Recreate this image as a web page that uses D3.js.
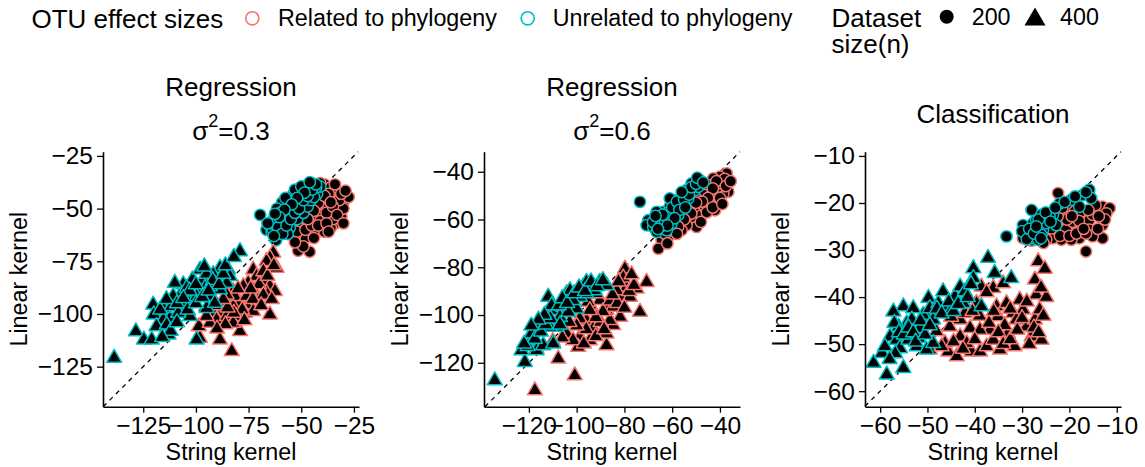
<!DOCTYPE html>
<html><head><meta charset="utf-8">
<script src="https://cdn.jsdelivr.net/npm/d3@7"></script>
<style>body{margin:0;background:#fff}svg{display:block}text{font-family:"Liberation Sans",Arial,sans-serif;fill:#000}</style>
</head><body><svg id="c" width="1145" height="467"></svg>
<script>
// ---------- data ----------
const panelTitles = [["Regression","σ","2","=0.3"],["Regression","σ","2","=0.6"],["Classification"]];
const xTicks = [[-125,-100,-75,-50,-25],[-120,-100,-80,-60,-40],[-60,-50,-40,-30,-20,-10]];
const yTicks = [[-125,-100,-75,-50,-25],[-120,-100,-80,-60,-40],[-60,-50,-40,-30,-20,-10]];
const xDomains = [[-144.1,-22.6],[-138.8,-31.6],[-63.2,-9.1]];
const yDomains = [[-144,-23],[-138.4,-31.6],[-63.3,-9.1]];
const groupLabels = ["Related to phylogeny","Unrelated to phylogeny"];
const sizeLabels = ["200","400"];

// Panel 1 (σ²=0.3)
const p1CircRel = [[-39,-38.5],[-36,-40],[-33,-42],[-28,-44.5],[-30,-47],[-35,-45],[-40,-44],[-43,-43],[-38,-47],[-33,-50],[-36,-52],[-40,-50],[-44,-48],[-42,-53],[-38,-55],[-34,-57],[-31,-54],[-36,-59],[-40,-58],[-45,-55],[-47,-52],[-49,-57],[-52,-58],[-54,-60],[-56,-59],[-50,-62],[-46,-60],[-43,-61],[-51,-66],[-48,-64],[-51.5,-70],[-46,-70.5],[-41,-56],[-44,-64],[-39,-61],[-30,-50],[-32,-46],[-37,-43],[-41,-41],[-45,-45],[-49,-48],[-53,-63],[-56,-62],[-27.5,-44.5],[-35,-55],[-42,-47.5],[-38,-52],
  [-55,-56],[-52,-61],[-48,-60],[-45,-58],[-42,-58],[-38,-57],[-35,-49],[-31,-43],[-29,-41.5],[-34,-38.5],[-41,-38],[-44,-51],[-47,-55],[-37,-61],[-33,-53],[-30,-57],[-49,-68],[-53,-66],[-39,-44],[-36,-47]];
const p1CircUnr = [[-69.5,-53],[-66.5,-60],[-64,-61],[-62,-65],[-61.5,-62],[-63,-55],[-60,-57],[-58.5,-60],[-57,-56],[-55.5,-59],[-57,-51],[-54,-53.5],[-52,-50],[-50,-48],[-52,-55],[-59,-47],[-61.5,-50],[-55.5,-46.5],[-54,-43.5],[-50.5,-45.5],[-49,-41],[-48,-45],[-46.5,-42.5],[-45,-38],[-44,-41],[-42.5,-43],[-41,-39.5],[-47,-39],[-43,-40],[-56,-49],[-53,-47],[-51,-43],[-58,-53],[-60,-52],[-65,-58],[-62,-58],[-56.5,-62],[-49,-52],[-47,-49],[-45.5,-46],[-53,-41],[-57.5,-45],[-50,-39.5],[-59,-55],[-55,-51.5],[-63.5,-60],[-47.5,-43],[-44,-44.5],
  [-64,-57],[-61,-59],[-59,-62],[-57,-58],[-55,-55],[-53,-52],[-51,-50],[-49,-46],[-47,-44],[-45,-41],[-43,-38.5],[-46,-37.5],[-48.5,-42.5],[-52,-45],[-54.5,-48],[-58,-50.5],[-60.5,-54],[-62.5,-52.5],[-66,-57],[-63,-63]];
const p1TriRel = [[-63.3,-71],[-64.9,-73.4],[-61.7,-78.2],[-66.5,-75],[-72.8,-79],[-71.2,-82.1],[-75.2,-85.3],[-68,-84.5],[-64.9,-86.9],[-62.5,-89.2],[-66.5,-90],[-72.8,-88.4],[-77.5,-86.9],[-82.3,-89.2],[-83.9,-93.2],[-79.1,-94.8],[-75.2,-95.6],[-70.4,-93.2],[-82.3,-96.4],[-87,-95.6],[-87.8,-99.5],[-91.8,-99.5],[-90.2,-102.7],[-85.4,-101.1],[-80.7,-101.1],[-76.7,-99.5],[-72.8,-98.7],[-64.9,-100.3],[-79.1,-108.2],[-83,-117.7],[-88.6,-112.2],[-98.1,-111.4],[-98.6,-105.9],[-93.4,-104.3],[-82.3,-104.3],[-74.4,-90],[-81.5,-91.6],[-85.4,-90.8],[-68,-79.8],[-76,-91.6],
  [-70,-86],[-66,-82],[-63,-77],[-68,-91],[-73,-93],[-78,-98],[-82,-99.5],[-86,-105],[-90,-107],[-95,-101],[-91,-96],[-85,-97],[-77,-103],[-74,-88],[-80,-88],[-64,-93],[-69,-96],[-87,-93]];
const p1TriUnr = [[-138.8,-120.9],[-128.5,-108.3],[-124.7,-112.2],[-121,-112.2],[-120.3,-95.6],[-120,-100.3],[-113,-109.8],[-112.3,-101.9],[-115.5,-97.2],[-111.6,-96.4],[-107.6,-94],[-106.8,-90],[-106,-86],[-110.8,-91.6],[-102.8,-94.8],[-102.8,-101.1],[-99.7,-112.2],[-101.6,-83.7],[-98,-79],[-96.5,-83.7],[-95.7,-87.7],[-92.6,-91.6],[-94.9,-97.2],[-90.2,-82.9],[-88.6,-78.2],[-91.8,-81.3],[-84.7,-79],[-83.9,-82.1],[-85.4,-85.3],[-88.6,-88.4],[-79.1,-70.3],[-98.1,-89.2],[-99.7,-91.6],[-105.2,-96.4],[-108.4,-99.5],[-115.5,-102.7],[-118.7,-105.9],[-113.9,-105.1],[-110,-85.3],[-104.4,-87.7],[-93.4,-86.9],[-91,-94.8],
  [-117,-98],[-114,-93],[-109,-95],[-104,-98],[-100,-95],[-97,-92],[-95,-81],[-92,-84],[-89,-86],[-87,-81],[-103,-89],[-106,-92.5],[-112,-108],[-116,-111],[-109,-104],[-100,-86],[-96,-77.5],[-86,-77],[-82,-73],[-94,-89]];

// Panel 2 (σ²=0.6)
const p2CircRel = [[-37.2,-40.7],[-40,-42.1],[-42.8,-42.8],[-36.5,-48.4],[-38.6,-49.1],[-40.7,-46.3],[-44.9,-45.6],[-46.3,-49.8],[-44.2,-53.3],[-41.4,-54],[-48.4,-54],[-50.5,-56.8],[-47.7,-58.2],[-51.9,-60.3],[-49.8,-63.1],[-54,-62.4],[-56.1,-64.5],[-58.9,-62.4],[-60.9,-66.6],[-64.4,-68.7],[-65.8,-72.2],[-59.6,-60.3],[-52.6,-54.7],[-43.5,-49.8],[-42.1,-56.1],[-46.3,-54.7],[-49.1,-51.9],[-56.8,-60.3],[-53.3,-58.2],[-39.3,-44.9],
  [-38,-43],[-41.5,-44],[-43,-47],[-45,-51],[-47.5,-52.5],[-50,-53],[-52,-57.5],[-55,-60],[-57.5,-63],[-61.5,-63.5],[-63,-66],[-48,-61],[-45.5,-57],[-43,-55],[-40,-51],[-37.5,-46],[-35.5,-44],[-39,-53.5],[-58,-66],[-62,-70]];
const p2CircUnr = [[-73.5,-52.6],[-70,-60.3],[-70.7,-62.4],[-67.9,-63.1],[-66.5,-65.2],[-64.4,-61.7],[-62.3,-58.9],[-63.7,-56.8],[-61,-54.7],[-59.6,-51.9],[-58.2,-54],[-56.1,-50.5],[-54,-47.7],[-51.9,-44.9],[-48.4,-43.5],[-50.5,-47.7],[-53.3,-51.2],[-56.8,-56.1],[-60.3,-61.7],[-62.3,-64.5],[-65.1,-58.9],[-66.5,-56.8],[-55.4,-53.3],[-57.5,-58.2],[-49.1,-46.3],[-61,-51.2],
  [-68,-61],[-65,-63],[-63,-60.5],[-61.5,-57],[-60,-55],[-58,-52.5],[-57,-56],[-55,-51.5],[-53,-49.5],[-52,-46.5],[-50,-45],[-49.5,-42.5],[-47,-44.5],[-59,-59.5],[-62,-62.5],[-64,-58],[-67,-58.5],[-56,-48.5],[-54.5,-55],[-66,-64]];
const p2TriRel = [[-117.5,-131.6],[-100.8,-125.3],[-107.7,-118.3],[-116.8,-114.1],[-104.2,-107.8],[-98.7,-109.2],[-94.5,-110.6],[-87.5,-112.7],[-99.4,-113.4],[-95.9,-102.2],[-93.1,-98],[-90.3,-93.8],[-87.5,-98],[-84.7,-96.6],[-81.8,-92.4],[-79.1,-88.2],[-79.8,-80.6],[-80.5,-84.4],[-74.9,-89],[-70.7,-86.2],[-73.5,-98.7],[-81.8,-100.8],[-84.7,-104.3],[-87.5,-107.8],[-93.1,-105.7],[-91.7,-91],[-98.7,-101.5],[-101.5,-110.6],[-83.2,-89.7],[-77.7,-92.4],[-86.1,-102.2],[-95.2,-94.5],
  [-96,-106],[-97,-112],[-92,-109],[-90,-103],[-89,-98.5],[-86,-94],[-83,-95],[-80,-97],[-78,-90],[-76,-87.5],[-82.5,-86],[-85,-91.5],[-92,-101],[-94.5,-98],[-100,-104.5],[-103,-103],[-106,-109.5],[-110,-111],[-88.5,-106],[-77,-83]];
const p2TriUnr = [[-134.3,-127.4],[-121.7,-119.7],[-123.1,-114.8],[-119.6,-110.6],[-118.2,-106.4],[-115.4,-103.6],[-112.6,-99.4],[-116.8,-114.8],[-114,-112.7],[-109.8,-98],[-108.4,-105],[-105.6,-96.6],[-104.2,-91],[-102.8,-89.7],[-98.7,-92.4],[-97.3,-88.2],[-95.9,-86.2],[-93.1,-87.6],[-90.3,-86.2],[-87.5,-87.6],[-100.1,-97.3],[-107,-100.8],[-111.2,-105],[-118.9,-107.8],[-109.8,-112],[-111.9,-92.4],[-101.5,-93.8],[-95.9,-91],[-92.4,-89.7],[-103.5,-98.7],
  [-120.5,-113],[-117.5,-110],[-115,-107],[-113,-104],[-111,-101.5],[-110.5,-96],[-107.5,-96],[-106,-93],[-104,-95],[-101,-91],[-99,-88.5],[-96.5,-90],[-94,-86],[-91.5,-88],[-89,-85.5],[-113.5,-100],[-116,-102],[-119,-104.5],[-122,-112],[-107,-104]];

// Panel 3 (Classification)
const p3CircRel = [[-22.4,-17.9],[-21,-22.5],[-20,-20.8],[-18.9,-21.8],[-17.9,-22.9],[-16.8,-24.3],[-15.8,-23.6],[-14.4,-21.8],[-13,-20.8],[-11.5,-21.1],[-12.2,-22.2],[-13,-24.7],[-13,-27.5],[-16.5,-30.3],[-17.9,-27.5],[-19.6,-27.8],[-21.7,-27.8],[-23.5,-27.5],[-24.9,-27.8],[-22.8,-25.4],[-20.7,-25.7],[-18.2,-25],[-15.8,-25.7],[-15.1,-27.1],[-29.8,-27.5],[-19.3,-24],[-17.5,-21.8],[-15.1,-22.5],[-23.8,-25.4],
  [-27,-27.5],[-25.5,-28.5],[-22,-27],[-20,-27],[-18.5,-26.5],[-16.5,-26.5],[-14,-25.5],[-12.5,-23.5],[-14.5,-20.5],[-16,-21.5],[-18,-23.8],[-20.5,-23.5],[-22.5,-22.8],[-21.5,-21],[-19.5,-22.8],[-17,-25.5],[-13.8,-22.8],[-28,-28]];
const p3CircUnr = [[-33.3,-27.1],[-29.8,-24.7],[-29.1,-26.1],[-28,-27.5],[-27.7,-24.3],[-27,-23.6],[-26.3,-25],[-25.6,-25.7],[-28,-21.5],[-23.5,-22.5],[-22.8,-24.7],[-22.1,-20.1],[-19.6,-19.3],[-17.2,-18.3],[-15.8,-17.2],[-15.4,-19],[-17.9,-20.8],[-25.9,-22.5],[-24.9,-24.3],[-27.3,-26.4],[-28.7,-27.1],[-26.6,-27.8],[-24.2,-22.9],[-25.9,-26.8],
  [-30,-26],[-29,-27.7],[-28.5,-25.5],[-27.5,-26.5],[-26.5,-23.5],[-25,-22],[-24,-24],[-23,-21],[-26,-27.5],[-27,-25],[-18.8,-18.6],[-16.5,-17.7],[-21,-19.8]];
const p3TriRel = [[-50.2,-44.1],[-49.5,-51.2],[-48.1,-47.3],[-45.6,-51.6],[-43.8,-52.6],[-46.3,-49.8],[-43.1,-48.4],[-43.1,-44.8],[-42.1,-43.4],[-41,-46.6],[-40.7,-51.6],[-38.9,-51.6],[-37.5,-50.5],[-36.8,-47],[-35.4,-42],[-35.1,-44.1],[-36.1,-49.1],[-34.7,-51.2],[-33,-47.7],[-33.3,-41.3],[-31.9,-43.4],[-31.6,-50.5],[-30.5,-40.6],[-29.8,-42.7],[-29.1,-46.3],[-28,-48.4],[-27.3,-44.8],[-27,-39.5],[-26.6,-32.4],[-27.3,-36.3],[-26.3,-42.7],[-25.9,-49.1],[-24.9,-40],[-25.2,-34],[-38.6,-37.8],[-36.1,-38.1],[-34,-37.1],[-31.2,-44.8],[-39.6,-41.3],[-45.3,-46.3],[-38.9,-47],[-41.7,-49.8],[-33.7,-46],
  [-47,-50.5],[-44.5,-49.5],[-42.5,-51],[-40,-49],[-39,-44],[-37,-45.5],[-36,-43],[-35,-47.5],[-34,-50],[-32.5,-49],[-31,-47],[-30,-44.5],[-29,-41],[-28.5,-50],[-27.5,-46.5],[-26.5,-47.5],[-26,-38],[-25.5,-44],[-32.5,-42.5],[-37.5,-39],[-40.5,-43],[-45,-44.2]];
const p3TriUnr = [[-61.4,-54],[-59.6,-51.9],[-58.6,-56.5],[-55.1,-55.1],[-57.9,-48.4],[-56.5,-49.1],[-55.8,-50.9],[-55.1,-42],[-54.4,-45.6],[-56.1,-46.3],[-53,-42.4],[-53.3,-44.8],[-51.9,-48.7],[-50.9,-43.8],[-49.8,-40.2],[-49.5,-42.4],[-47.7,-41.3],[-46.7,-38.8],[-46,-42],[-44.2,-39.9],[-43.1,-37.8],[-42.1,-38.8],[-40.3,-33.9],[-40.3,-36],[-38.6,-42],[-37.2,-31.7],[-35.8,-34.9],[-32.3,-36],[-54,-49.1],[-52.3,-50.5],[-50.2,-51.2],[-48.8,-44.8],[-44.9,-42.7],[-51.6,-46.6],[-57.2,-43.1],[-48.8,-49.8],[-42.4,-41.3],
  [-57,-45.5],[-56,-47.5],[-55,-48],[-54,-46.5],[-53,-47.5],[-52.5,-49.5],[-51.5,-45],[-50.5,-48],[-49.5,-46],[-48,-42.5],[-47,-43.5],[-45.5,-41],[-44.5,-43],[-43.5,-41.5],[-41.5,-40],[-40.8,-37.3],[-59,-50.5],[-56.8,-52],[-58,-53.2]];

const panelData = [
  {circRel:p1CircRel,circUnr:p1CircUnr,triRel:p1TriRel,triUnr:p1TriUnr},
  {circRel:p2CircRel,circUnr:p2CircUnr,triRel:p2TriRel,triUnr:p2TriUnr},
  {circRel:p3CircRel,circUnr:p3CircUnr,triRel:p3TriRel,triUnr:p3TriUnr}
];

// ---------- drawing ----------
const RED = "#F8766D", CYAN = "#00BFC4";
const svg = d3.select("#c");
const panelLeft = [103, 484, 865], PW = 256, PTOP = 151.7, PBOT = 406.7;
const TICK_FONT = 24.5, TITLE_FONT = 26, AXT_FONT = 23.3;

function triPath(cx, cy, s) {
  const h = s * 0.866;
  return `M${cx},${cy - h*2/3}L${cx + s/2},${cy + h/3}L${cx - s/2},${cy + h/3}Z`;
}

panelData.forEach((pd, i) => {
  const x = d3.scaleLinear().domain(xDomains[i]).range([panelLeft[i], panelLeft[i] + PW]);
  const y = d3.scaleLinear().domain(yDomains[i]).range([PBOT, PTOP]);
  const g = svg.append("g");
  const fmt = d => d < 0 ? "\u2212" + Math.abs(d) : String(d);

  // dashed identity line
  const lo = Math.max(xDomains[i][0], yDomains[i][0]), hi = Math.min(xDomains[i][1], yDomains[i][1]);
  g.append("line").attr("x1", x(lo)).attr("y1", y(lo)).attr("x2", x(hi)).attr("y2", y(hi))
    .attr("stroke", "#000").attr("stroke-width", 1.3).attr("stroke-dasharray", "4.5,4.5");

  // points
  const drawCirc = (arr, col) => g.append("g").selectAll("circle").data(arr).join("circle")
    .attr("cx", d => x(d[0])).attr("cy", d => y(d[1])).attr("r", 5.7)
    .attr("fill", "#000").attr("stroke", col).attr("stroke-width", 1.5);
  const drawTri = (arr, col) => g.append("g").selectAll("path").data(arr).join("path")
    .attr("d", d => triPath(x(d[0]), y(d[1]), 15))
    .attr("fill", "#000").attr("stroke", col).attr("stroke-width", 1.5).attr("stroke-linejoin", "round");
  drawCirc(pd.circRel, RED);
  drawCirc(pd.circUnr, CYAN);
  drawTri(pd.triRel, RED);
  drawTri(pd.triUnr, CYAN);

  // axes
  const xa = g.append("g").attr("transform", `translate(0,${PBOT})`)
    .call(d3.axisBottom(x).tickValues(xTicks[i]).tickFormat(fmt).tickSize(6).tickPadding(4).tickSizeOuter(0));
  const ya = g.append("g").attr("transform", `translate(${panelLeft[i]},0)`)
    .call(d3.axisLeft(y).tickValues(yTicks[i]).tickFormat(fmt).tickSize(6).tickPadding(4).tickSizeOuter(0));
  [xa, ya].forEach(a => {
    a.select(".domain").attr("stroke", "#000").attr("stroke-width", 1.6);
    a.selectAll(".tick line").attr("stroke", "#000").attr("stroke-width", 1.3);
    a.selectAll(".tick text").style("font-size", TICK_FONT + "px").attr("fill", "#000")
      .style("font-family", '"Liberation Sans",Arial,sans-serif');
  });

  // axis titles
  const cx = panelLeft[i] + PW / 2;
  g.append("text").attr("x", cx).attr("y", 460).attr("text-anchor", "middle")
    .style("font-size", AXT_FONT + "px").text("String kernel");
  g.append("text").attr("transform", `translate(${panelLeft[i] - 76.5},${(PTOP + PBOT) / 2}) rotate(-90)`)
    .attr("text-anchor", "middle").style("font-size", AXT_FONT + "px").text("Linear kernel");

  // panel titles
  const t = panelTitles[i];
  if (t.length > 1) {
    g.append("text").attr("x", cx).attr("y", 95.7).attr("text-anchor", "middle")
      .style("font-size", TITLE_FONT + "px").text(t[0]);
    const s = g.append("text").attr("x", cx).attr("y", 140).attr("text-anchor", "middle")
      .style("font-size", TITLE_FONT + "px");
    s.append("tspan").text(t[1]);
    s.append("tspan").attr("dy", -13).style("font-size", "18px").text(t[2]);
    s.append("tspan").attr("dy", 13).text(t[3]);
  } else {
    g.append("text").attr("x", cx).attr("y", 123).attr("text-anchor", "middle")
      .style("font-size", TITLE_FONT + "px").text(t[0]);
  }
});

// ---------- legend ----------
const lg = svg.append("g");
lg.append("text").attr("x", 31.5).attr("y", 27.5).style("font-size", "26px").text("OTU effect sizes");
lg.append("circle").attr("cx", 252.3).attr("cy", 18.3).attr("r", 6.6).attr("fill", "none").attr("stroke", RED).attr("stroke-width", 1.6);
lg.append("text").attr("x", 278).attr("y", 25.5).style("font-size", "23.3px").text(groupLabels[0]);
lg.append("circle").attr("cx", 527.7).attr("cy", 18.3).attr("r", 6.6).attr("fill", "none").attr("stroke", CYAN).attr("stroke-width", 1.6);
lg.append("text").attr("x", 552.7).attr("y", 25.5).style("font-size", "23.3px").text(groupLabels[1]);
lg.append("text").attr("x", 831.5).attr("y", 27).style("font-size", "26px").text("Dataset");
lg.append("text").attr("x", 831.5).attr("y", 53).style("font-size", "26px").text("size(n)");
lg.append("circle").attr("cx", 946.7).attr("cy", 16.7).attr("r", 7).attr("fill", "#000");
lg.append("text").attr("x", 971.7).attr("y", 25.3).style("font-size", "23.3px").text(sizeLabels[0]);
lg.append("path").attr("d", triPath(1035, 19.5, 21)).attr("fill", "#000");
lg.append("text").attr("x", 1060).attr("y", 25.3).style("font-size", "23.3px").text(sizeLabels[1]);
</script></body></html>
